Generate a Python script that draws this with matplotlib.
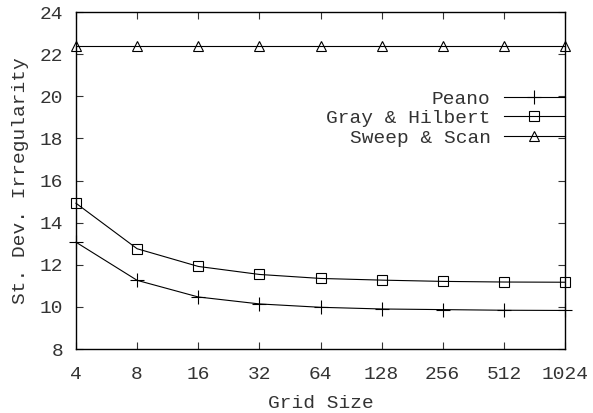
import matplotlib
matplotlib.use("Agg")
import matplotlib.pyplot as plt

# grid sizes and irregularity values per curve family
grid_sizes = [4, 8, 16, 32, 64, 128, 256, 512, 1024]
peano = [13.07, 11.26, 10.47, 10.14, 9.98, 9.90, 9.87, 9.84, 9.83]
gray_hilbert = [14.92, 12.76, 11.92, 11.54, 11.35, 11.27, 11.21, 11.18, 11.17]
sweep_scan = [22.40, 22.40, 22.40, 22.40, 22.40, 22.40, 22.40, 22.40, 22.40]
y_ticks = [8, 10, 12, 14, 16, 18, 20, 22, 24]

plt.rcParams['font.family'] = ['Liberation Mono', 'DejaVu Sans Mono']
plt.rcParams['font.size'] = 14

fig = plt.figure(figsize=(5.93, 4.13), dpi=100)
ax = fig.add_axes([76 / 593, 1 - 349 / 413, 489 / 593, 337 / 413])

line_kw = dict(color='black', linewidth=0.8, markerfacecolor='none',
               markeredgecolor='black', markeredgewidth=0.8, clip_on=False)
ax.plot(grid_sizes, peano, marker='+', markersize=9.5, label='Peano', **line_kw)
ax.plot(grid_sizes, gray_hilbert, marker='s', markersize=7.2,
        label='Gray & Hilbert', **line_kw)
ax.plot(grid_sizes, sweep_scan, marker='^', markersize=7.5,
        label='Sweep & Scan', **line_kw)

ax.set_xscale('log', base=2)
ax.set_xlim(4, 1024)
ax.set_ylim(8, 24)
ax.set_xticks(grid_sizes)
ax.set_xticklabels([str(g) for g in grid_sizes])
ax.minorticks_off()
ax.set_yticks(y_ticks)
ax.tick_params(direction='in', length=5, width=0.8, top=True, right=True,
               colors='#333333')
ax.tick_params(axis='x', pad=12)
ax.tick_params(axis='y', pad=9)
for sp in ax.spines.values():
    sp.set_linewidth(1.0)

ax.set_xlabel('Grid Size', color='#333333', labelpad=9)
ax.set_ylabel('St. Dev. Irregularity', color='#333333', labelpad=8)

leg = ax.legend(loc='upper right', bbox_to_anchor=(1.0, 1 - 78 / 337),
                frameon=False, markerfirst=False, handlelength=3.15,
                handletextpad=0.67, borderpad=0, borderaxespad=0,
                labelspacing=0.1)
for t in leg.get_texts():
    t.set_color('#333333')

fig.savefig('out.png', dpi=100)
